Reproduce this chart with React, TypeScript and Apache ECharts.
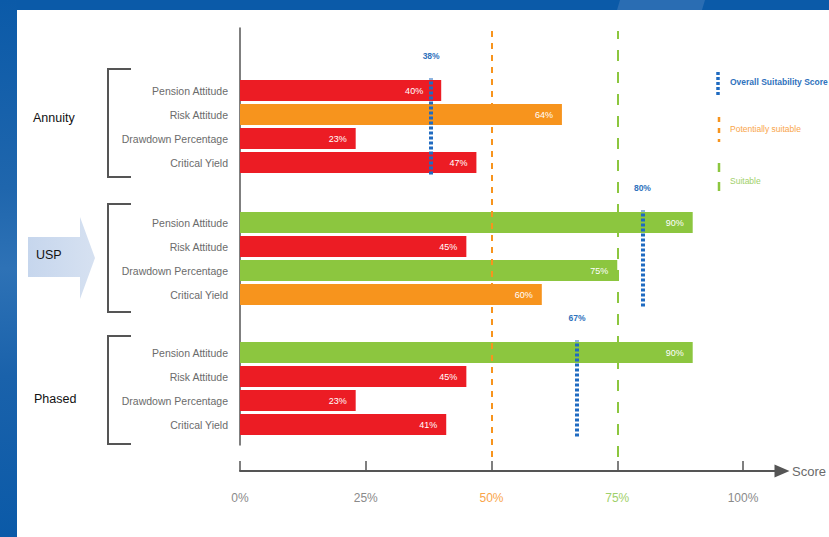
import React, { useEffect, useRef } from 'react';
import * as echarts from 'echarts';

const factors = ['Pension Attitude', 'Risk Attitude', 'Drawdown Percentage', 'Critical Yield'];
const products = ['Annuity', 'USP', 'Phased'];
const annuityScores = [40, 64, 23, 47];
const uspScores = [90, 45, 75, 60];
const phasedScores = [90, 45, 23, 41];
const overallScores = [38, 80, 67];
const xTickValues = [0, 25, 50, 75, 100];
const potentiallySuitable = 50;
const suitable = 75;
const legendLabels = ['Overall Suitability Score', 'Potentially suitable', 'Suitable'];
const axisName = 'Score';

const RED = '#ec1c24';
const ORANGE = '#f7941d';
const GREEN = '#8cc63f';
const BLUE = '#1f6bc1';
const BLUE_TEXT = '#2f72bd';
const AXIS = '#555555';
const SANS = '"Liberation Sans", Arial, sans-serif';

const colorFor = (v: number) => (v >= suitable ? GREEN : v >= potentiallySuitable ? ORANGE : RED);

export default function App() {
  const ref = useRef<HTMLDivElement>(null);
  useEffect(() => {
    if (!ref.current) return;
    const chart = echarts.init(ref.current, undefined, { renderer: 'svg' });
    const groups = [annuityScores, uspScores, phasedScores];
    const groupTops = [78.5, 210.5, 340.5];
    const groupHeight = 96;
    const L = 240;
    const W = 503;
    const pxPerUnit = W / 100;

    const grids: any[] = [
      { left: L, top: 28, width: W, height: 417 }, // y axis line
      { left: L, top: 28, width: W, height: 443 }, // x ticks / labels
      { left: L, top: 28, width: 542, height: 443 }, // x axis line w/ arrow
      { left: L, top: 31, width: W, height: 426 }, // threshold lines
      ...groupTops.map((t) => ({ left: L, top: t, width: W, height: groupHeight })),
    ];

    const xAxes: any[] = [
      { gridIndex: 0, type: 'value', min: 0, max: 100, show: false },
      {
        gridIndex: 1, type: 'value', min: 0, max: 100, interval: 25,
        axisLine: { show: false },
        splitLine: { show: false },
        axisTick: { show: true, inside: true, length: 10, lineStyle: { color: AXIS, width: 1.5 } },
        axisLabel: {
          margin: 21,
          fontFamily: SANS,
          fontSize: 12,
          formatter: (v: number) => (xTickValues.includes(v) ? `${v}%` : ''),
          color: (v: any) => {
            const n = Number(v);
            return n === potentiallySuitable ? '#f9a54a' : n === suitable ? '#9fd06a' : '#8a8a8a';
          },
        },
      },
      {
        gridIndex: 2, type: 'value', min: 0, max: 100,
        axisLine: { show: true, lineStyle: { color: AXIS, width: 2 }, symbol: ['none', 'triangle'], symbolSize: [13, 15] },
        axisTick: { show: false },
        axisLabel: { show: false },
        splitLine: { show: false },
        name: axisName,
        nameLocation: 'end',
        nameGap: 10,
        nameTextStyle: { color: '#6a6a6a', fontSize: 13, fontFamily: SANS, verticalAlign: 'middle' },
      },
      { gridIndex: 3, type: 'value', min: 0, max: 100, show: false },
      ...groupTops.map((_, g) => ({ gridIndex: 4 + g, type: 'value', min: 0, max: 100, show: false })),
    ];

    const revFactors = [...factors].reverse();
    const yAxes: any[] = [
      {
        gridIndex: 0, type: 'value', min: 0, max: 1,
        axisLine: { show: true, lineStyle: { color: AXIS, width: 1.5 } },
        axisTick: { show: false }, axisLabel: { show: false }, splitLine: { show: false },
      },
      { gridIndex: 1, type: 'value', min: 0, max: 1, show: false },
      { gridIndex: 2, type: 'value', min: 0, max: 1, show: false },
      { gridIndex: 3, type: 'value', min: 0, max: 1, show: false },
      ...groupTops.map((_, g) => ({
        gridIndex: 4 + g, type: 'category', data: revFactors,
        axisLine: { show: false }, axisTick: { show: false },
        axisLabel: { margin: 12, color: '#6b6b6b', fontSize: 10.5, fontFamily: SANS },
      })),
    ];

    const series: any[] = [
      {
        type: 'line', xAxisIndex: 3, yAxisIndex: 3, data: [],
        markLine: {
          silent: true, symbol: 'none', label: { show: false },
          data: [
            { xAxis: potentiallySuitable, lineStyle: { color: ORANGE, width: 2, type: [6, 6] } },
            { xAxis: suitable, lineStyle: { color: GREEN, width: 2, type: [11, 11] } },
          ],
        },
      },
      ...groups.map((vals, g) => ({
        type: 'bar',
        name: products[g],
        xAxisIndex: 4 + g,
        yAxisIndex: 4 + g,
        barWidth: 21,
        data: [...vals].reverse().map((v) => {
          const gap = v - overallScores[g];
          const item: any = { value: v, itemStyle: { color: colorFor(v) } };
          // keep the value label clear of the overall-score dotted line
          if (gap > 0 && gap < 5) item.label = { distance: gap * pxPerUnit + 8 };
          return item;
        }),
        label: {
          show: true, position: 'insideRight', distance: 9, color: '#ffffff',
          fontSize: 9, fontFamily: SANS, formatter: '{c}%',
        },
        markLine: {
          silent: true, symbol: 'none',
          lineStyle: { color: BLUE, width: 4, type: [3, 2] },
          label: {
            show: true, position: 'end', distance: 18, formatter: `${overallScores[g]}%`,
            color: BLUE_TEXT, fontWeight: 'bold', fontSize: 8.5, fontFamily: SANS,
          },
          data: [{ xAxis: overallScores[g] }],
        },
      })),
    ];

    const bracketTops = [69, 204, 336];
    const bracketHeight = 108;
    const groupLabelPos = [[33, 118], [36, 255], [34, 399]];

    const graphic: any[] = [
      { type: 'rect', shape: { x: 0, y: 0, width: 829, height: 10 }, style: { fill: '#0b5aa8' }, z: -10 },
      {
        type: 'rect', shape: { x: 0, y: 0, width: 17, height: 537 },
        style: {
          fill: new echarts.graphic.LinearGradient(0, 0, 0, 1, [
            { offset: 0, color: '#0b5aa8' },
            { offset: 0.35, color: '#1f66ad' },
            { offset: 0.5, color: '#2e72b6' },
            { offset: 0.7, color: '#1a62ab' },
            { offset: 1, color: '#0b5aa8' },
          ]),
        },
        z: -10,
      },
      { type: 'polygon', shape: { points: [[620, 0], [705, 0], [702, 10], [617, 10]] }, style: { fill: '#2a6db3' }, z: -9 },
      {
        type: 'polygon',
        shape: { points: [[28, 237], [80, 237], [80, 217], [95, 258], [80, 299], [80, 277], [28, 277]] },
        style: {
          fill: new echarts.graphic.LinearGradient(0, 0, 1, 0, [
            { offset: 0, color: '#c6d6ed' },
            { offset: 1, color: '#d6e1f1' },
          ]),
        },
        z: -5,
      },
      ...bracketTops.map((t) => ({
        type: 'polyline',
        shape: { points: [[131, t], [108, t], [108, t + bracketHeight], [131, t + bracketHeight]] },
        style: { stroke: '#555555', lineWidth: 2, fill: null },
      })),
      ...products.map((p, i) => ({
        type: 'text', x: groupLabelPos[i][0], y: groupLabelPos[i][1],
        style: { text: p, fill: '#111111', fontSize: 12.5, fontFamily: SANS, verticalAlign: 'middle', align: 'left' },
      })),
      // legend
      { type: 'line', shape: { x1: 718, y1: 72, x2: 718, y2: 95 }, style: { stroke: BLUE, lineWidth: 3.5, lineDash: [3, 2] } },
      {
        type: 'text', x: 730, y: 82,
        style: { text: legendLabels[0], fill: BLUE_TEXT, fontSize: 8.5, fontWeight: 'bold', fontFamily: SANS, verticalAlign: 'middle' },
      },
      { type: 'line', shape: { x1: 719, y1: 117, x2: 719, y2: 142 }, style: { stroke: ORANGE, lineWidth: 2.5, lineDash: [5, 6] } },
      {
        type: 'text', x: 730, y: 129,
        style: { text: legendLabels[1], fill: '#f9a54a', fontSize: 8.5, fontFamily: SANS, verticalAlign: 'middle' },
      },
      { type: 'line', shape: { x1: 719, y1: 163, x2: 719, y2: 199 }, style: { stroke: GREEN, lineWidth: 2.5, lineDash: [9, 10] } },
      {
        type: 'text', x: 730, y: 181,
        style: { text: legendLabels[2], fill: '#9fd06a', fontSize: 8.5, fontFamily: SANS, verticalAlign: 'middle' },
      },
    ];

    chart.setOption({
      animation: false,
      backgroundColor: '#ffffff',
      textStyle: { fontFamily: SANS },
      grid: grids,
      xAxis: xAxes,
      yAxis: yAxes,
      series,
      graphic,
    });
    return () => chart.dispose();
  }, []);

  return <div ref={ref} style={{ position: 'absolute', left: 0, top: 0, width: 829, height: 537 }} />;
}
